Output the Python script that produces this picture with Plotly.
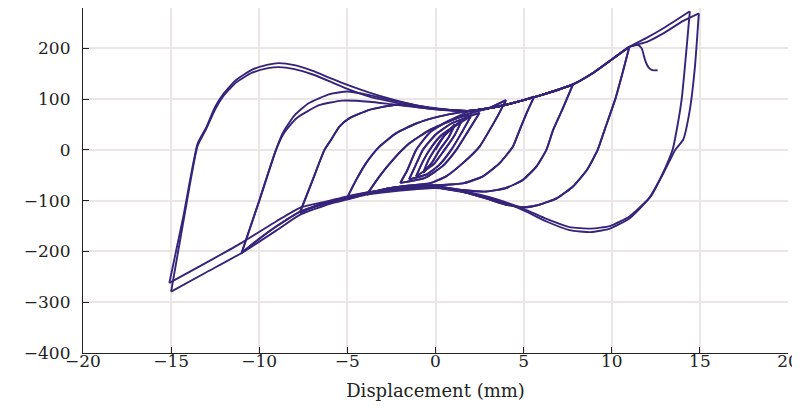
import plotly.graph_objects as go

# ---------------- data ----------------
# positive peaks of each amplitude step (x in mm, force)
peak_x = [1.1, 1.5, 2.0, 2.5, 4.0, 5.6, 7.8, 11.0]
peak_y = [50, 58, 66, 73, 98, 105, 129, 203]

# shared positive loading envelope
env_x = [2, 3, 4, 5, 6, 7, 7.8, 9, 10, 11]
env_y = [77, 82, 89, 98, 108, 119, 129, 153, 178, 203]

# extension of the envelope to the two +15 mm peaks
pk1_x = [12, 13, 14.43]
pk1_y = [221, 241, 273]
pk2_x = [12, 13, 14, 14.94]
pk2_y = [213, 231, 253, 269]

# rising branches (start at a negative peak)
r0_x = [0, 0.5]
r0_y = [0, 28]
r1_x = [-0.7, -0.4, -0.06, 0.5]
r1_y = [-45, -20, 0, 28]
r2_x = [-1.1, -0.75, -0.34, 0.3]
r2_y = [-52, -25, 0, 28]
r3_x = [-1.5, -1.15, -0.72, 0.0, 0.9]
r3_y = [-58, -32, 0, 30, 52]
r4_x = [-2.0, -1.6, -1.1, -0.3, 0.8]
r4_y = [-65, -40, 0, 35, 58]
r5_x = [-3.9, -3.18, -2.43, -1.48, -0.34, 0.98, 1.93]
r5_y = [-88, -52, -20, 13, 39, 59, 72]
r6_x = [-5.07, -4.5, -3.94, -3.18, -2.23, -1.1, 0.23, 1.55]
r6_y = [-98, -59, -26, 6.5, 33, 52, 66, 75]
r7_x = [-7.7, -7.0, -6.3, -6.0, -5.45, -4.9, -3.75, -2.23, -1.0, 0, 1.0]
r7_y = [-124, -62, 0, 16, 46, 62, 79, 89, 86, 81, 78]
r8a_x = [-11, -10, -9.05, -8.67, -8.0, -7.2, -6.0, -5.0, -3.75, -2.5, -1.0, 0, 1.0]
r8a_y = [-203, -100, 0, 33, 68, 92, 110, 115, 108, 98, 87, 81, 78]
r8b_x = [-11, -10, -9.05, -8.6, -7.9, -6.6, -5.3, -3.75, -2.5, -1.0, 0, 1.0]
r8b_y = [-203, -100, 0, 33, 62, 88, 97, 95, 90, 84, 80, 78]
r9a_x = [-15.1, -14.3, -13.5, -13.0, -12.5, -12.0, -11.3, -10.4, -9.5, -8.9,
         -8.0, -7.0, -6.0, -5.0, -3.75, -2.5, -1.0, 0, 1.0]
r9a_y = [-262, -130, 12, 45, 85, 112, 138, 158, 168, 171,
         167, 156, 142, 128, 113, 100, 87, 82, 78]
r9b_x = [-15.0, -14.3, -13.5, -13.0, -12.5, -12.0, -11.3, -10.4, -9.5, -8.9,
         -8.0, -7.0, -6.0, -5.0, -3.75, -2.5, -1.0, 0, 1.0]
r9b_y = [-279, -140, 8, 42, 80, 108, 133, 152, 161, 163,
         159, 149, 135, 120, 105, 95, 84, 80, 77]

# final drop after the last partial cycle
hook_x = [11.5, 11.7, 11.9, 12.1, 12.3, 12.6]
hook_y = [207, 200, 176, 162, 157, 157]

# falling branches (start at a positive peak, end at a negative peak)
d1_x = [1.1, 0.75, 0.23, -0.2, -0.7]
d1_y = [50, 25, 0, -25, -45]
d2_x = [1.5, 1.1, 0.51, -0.1, -1.1]
d2_y = [58, 30, 0, -28, -52]
d3_x = [2.0, 1.55, 0.89, 0.2, -0.5, -1.5]
d3_y = [66, 38, 0, -30, -48, -58]
d4_x = [2.5, 2.0, 1.18, 0.4, -0.6, -2.0]
d4_y = [73, 45, 0, -32, -55, -65]
d5_x = [4.0, 3.5, 3.07, 2.5, 1.55, 0.6, -0.34, -1.5, -2.7, -3.9]
d5_y = [98, 65, 39, 6.5, -26, -52, -66, -70, -76, -88]
d6_x = [5.6, 5.2, 4.77, 4.39, 3.64, 2.69, 1.55, 0.41, -1.0, -2.5, -3.9, -5.07]
d6_y = [105, 75, 39, 6.5, -26, -52, -66, -69, -70, -75, -86, -98]
d7_x = [7.8, 7.2, 6.67, 6.29, 5.72, 4.96, 4.0, 2.88, 1.55, 0, -2, -3.9,
        -5.07, -6.5, -7.7]
d7_y = [129, 80, 39, 0, -33, -59, -75, -82, -79, -72, -75, -84,
        -94, -106, -124]
d8_x = [11, 10.6, 10.2, 9.6, 9.2, 8.6, 7.8, 6.9, 5.9, 5.0, 4.0, 3.0, 1.5, 0,
        -2, -3.9, -5.07, -6.5, -7.7, -9, -10, -11]
d8_y = [203, 150, 100, 40, 0, -39, -72, -95, -108, -113, -108, -97, -82, -74,
        -77, -86, -96, -108, -122, -150, -175, -203]
d9a_x = [14.43, 13.96, 13.58, 13.45, 12.9, 12.2, 11.0, 9.9, 8.8, 7.6, 6.3, 5.0,
         3.45, 1.55, 0, -2, -3.9, -5.07, -6, -7.7, -9, -11, -13, -15.1]
d9a_y = [273, 98, 20, 0, -46, -92, -131, -150, -155, -152, -136, -116,
         -97, -81, -72, -76, -84, -92, -100, -114, -140, -183, -222, -262]
d9b_x = [14.94, 14.72, 14.43, 14.05, 13.6, 12.9, 12.1, 11.0, 9.9, 8.8, 7.6, 6.3,
         5.0, 3.45, 1.55, 0, -2, -3.9, -5.07, -6, -7.7, -9, -11, -13, -15.0]
d9b_y = [269, 164, 79, 20, 0, -48, -96, -135, -155, -162, -158, -141,
         -119, -99, -83, -75, -80, -88, -98, -106, -128, -158, -203, -241, -279]

x_ticks = [-20, -15, -10, -5, 0, 5, 10, 15, 20]
y_ticks = [-400, -300, -200, -100, 0, 100, 200]
x_label = "Displacement (mm)"

# ---------------- assemble the loading path, one segment per reversal ----------------
segs = []


def seg(xs, ys):
    segs.append((list(xs), list(ys)))


def env_between(x0, x1):
    ex = [e for e in env_x if x0 + 0.3 < e < x1 - 0.3]
    ey = [v for e, v in zip(env_x, env_y) if x0 + 0.3 < e < x1 - 0.3]
    return ex, ey


def rise_to(rx, ry, k):
    px, py = peak_x[k], peak_y[k]
    xs, ys = list(rx), list(ry)
    if px > 3:
        ex, ey = env_between(rx[-1], px)
        xs += ex
        ys += ey
    seg(xs + [px], ys + [py])


def rise_env(rx, ry, tx, ty):
    ex, ey = env_between(rx[-1], 99)
    seg(list(rx) + ex + list(tx), list(ry) + ey + list(ty))


rises = [(r1_x, r1_y), (r2_x, r2_y), (r3_x, r3_y), (r4_x, r4_y),
         (r5_x, r5_y), (r6_x, r6_y), (r7_x, r7_y)]
falls = [(d1_x, d1_y), (d2_x, d2_y), (d3_x, d3_y), (d4_x, d4_y),
         (d5_x, d5_y), (d6_x, d6_y), (d7_x, d7_y), (d8_x, d8_y)]

rise_to(r0_x, r0_y, 0)
for k in range(7):
    fx, fy = falls[k]
    rx, ry = rises[k]
    seg(fx, fy)
    rise_to(rx, ry, k)          # second cycle, same amplitude
    seg(fx, fy)
    rise_to(rx, ry, k + 1)      # on to next amplitude
# 11 mm cycles
seg(d8_x, d8_y)
rise_to(r8a_x, r8a_y, 7)
seg(d8_x, d8_y)
rise_env(r8b_x, r8b_y, pk1_x, pk1_y)
# 15 mm cycles
seg(d9a_x, d9a_y)
rise_env(r9a_x, r9a_y, pk2_x, pk2_y)
seg(d9b_x, d9b_y)
rise_env(r9b_x, r9b_y, hook_x[:1], hook_y[:1])
seg(hook_x, hook_y)

# ---------------- figure ----------------
# the page body adds an 8 px offset, so the figure is sized 792 x 400
font_family = "DejaVu Serif"
grid_col = "#ece5e5"
line_col = "#35247a"

fig = go.Figure()
for sx, sy in segs:
    fig.add_trace(go.Scatter(
        x=sx, y=sy, mode="lines",
        line=dict(color=line_col, width=1.9, shape="spline", smoothing=0.5),
        hoverinfo="skip", showlegend=False,
    ))

fig.update_layout(
    width=792, height=400,
    margin=dict(l=75, r=12, t=0, b=55),
    paper_bgcolor="white", plot_bgcolor="white",
    font=dict(family=font_family, size=17, color="#222222"),
    showlegend=False,
)
fig.update_xaxes(
    range=[-20, 20], tickvals=x_ticks, automargin=False,
    showgrid=True, gridcolor=grid_col, gridwidth=1.5,
    zeroline=False, showline=True, linecolor="#222222", linewidth=1.2,
    ticks="inside", ticklen=6, tickcolor="#222222",
    tickfont=dict(family=font_family, size=17),
    ticklabelstandoff=-8,
    title=dict(text=x_label, font=dict(family=font_family, size=18), standoff=14),
)
fig.update_yaxes(
    range=[-400, 279.5], tickvals=y_ticks, automargin=False,
    showgrid=True, gridcolor=grid_col, gridwidth=1.5,
    zeroline=False, showline=True, linecolor="#222222", linewidth=1.2,
    ticks="inside", ticklen=6, tickcolor="#222222",
    tickfont=dict(family=font_family, size=17),
    ticklabelstandoff=8,
)

fig.write_html("out.html")
